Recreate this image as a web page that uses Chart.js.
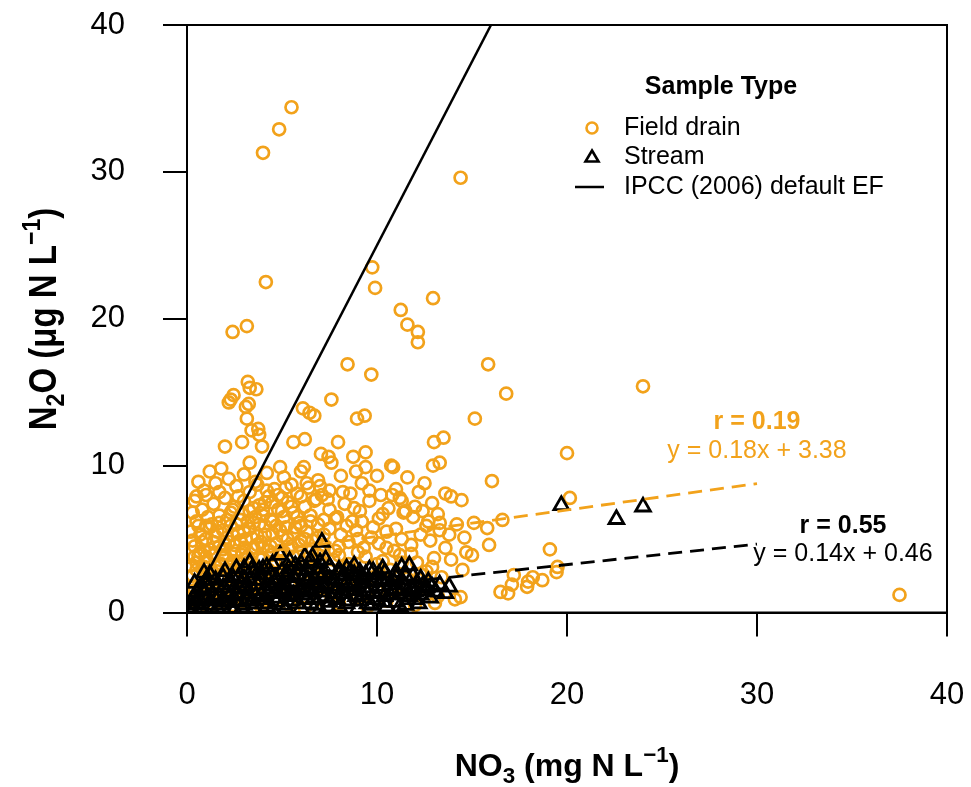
<!DOCTYPE html>
<html><head><meta charset="utf-8">
<script src="https://cdn.jsdelivr.net/npm/chart.js@4.4.1/dist/chart.umd.min.js"></script>
<style>html,body{margin:0;padding:0;background:#fff;}#wrap{width:971px;height:787px;}</style>
</head><body><div id="wrap"><canvas id="c" width="971" height="787"></canvas></div>
<script>
const xTicks=[0,10,20,30,40];
const yTicks=[0,10,20,30,40];
const seriesNames=['Field drain','Stream','IPCC (2006) default EF'];
const legendTitle='Sample Type';
// Field drain samples [NO3, N2O]
const fieldDrain=[
[5.5,34.4],[4.85,32.9],[4.0,31.3],[14.4,29.6],[4.15,22.5],[9.75,23.5],[9.9,22.1],[12.95,21.4],[11.25,20.6],[11.6,19.6],[12.15,19.1],[12.15,18.4],[15.85,16.9],[16.8,14.9],[15.15,13.2],[20.0,10.85],[24.0,15.4],[37.5,1.2],
[2.4,19.1],[3.15,19.5],[8.45,16.9],[9.7,16.2],[3.2,15.7],[3.3,15.3],[3.65,15.2],[2.45,14.8],[2.3,14.5],[2.2,14.3],[3.25,14.2],[3.1,14.0],[7.6,14.5],[6.1,13.9],[6.45,13.6],[6.7,13.4],[3.15,13.2],[8.95,13.2],[9.35,13.4],[3.4,12.4],[3.75,12.5],[3.8,12.1],[2.0,11.3],[2.9,11.6],[3.95,11.3],[5.6,11.6],[6.2,11.8],[7.95,11.6],[3.3,10.2],[7.05,10.8],[7.45,10.6],[7.6,10.2],[8.75,10.6],[9.4,10.9],[6.15,9.9],[9.4,9.9],[10.75,10.0],[10.85,9.9],[12.95,10.0],[13.3,10.2],[13.0,11.6],[13.5,11.9],
[16.05,8.95],[13.6,8.1],[13.9,7.9],[14.45,7.65],[12.9,7.45],[11.2,7.8],[11.3,7.6],[11.4,6.8],[15.1,6.1],[15.8,5.75],[16.6,6.3],[15.9,4.6],[19.1,4.3],[19.5,3.1],[19.45,2.75],[20.15,7.8],[17.2,2.55],[16.5,1.4],[16.9,1.3],[17.1,1.9],[17.95,2.1],[18.2,2.4],[18.7,2.2],[17.9,1.75],[13.05,0.65],[14.4,1.05],[14.7,4.1],[15.0,3.9],[13.9,3.6],[14.5,2.9],
[0.9,8.3],[1.5,8.8],[2.2,9.1],[2.6,8.6],[3.0,9.4],[3.6,8.9],[4.2,9.5],[4.6,8.4],[5.1,9.2],[5.5,8.7],[6.0,9.6],[6.4,8.5],[6.9,9.0],[7.5,8.3],[8.1,9.3],[8.6,8.1],[9.2,8.8],[10.2,8.0],[11.0,8.4],[12.2,8.2],[1.8,9.8],[4.9,9.9],[5.8,8.1],[7.1,8.0],
[0.5,6.2],[0.8,7.0],[1.1,6.5],[1.4,7.4],[1.7,6.1],[2.0,7.8],[2.3,6.8],[2.5,7.2],[2.8,6.3],[3.0,7.6],[3.3,6.9],[3.5,6.1],[3.8,7.3],[4.0,6.6],[4.3,7.9],[4.5,6.2],[4.8,7.0],[5.1,6.5],[5.3,7.5],[5.6,6.8],[5.9,6.1],[6.2,7.2],[6.5,6.6],[6.8,7.7],[7.2,6.3],[7.5,7.0],[7.9,6.5],[8.3,7.4],[8.7,6.2],[9.1,6.9],[9.6,7.6],[10.1,6.4],[10.6,7.1],[11.9,6.5],[12.4,6.9],[13.2,6.7],[12.7,6.2],[4.1,7.5],[2.7,7.9],[1.3,6.0],[3.6,6.5],[5.0,7.8],
[0.4,4.5],[0.7,5.3],[0.9,4.2],[1.2,5.8],[1.4,4.8],[1.6,5.5],[1.9,4.3],[2.1,5.1],[2.3,5.9],[2.5,4.6],[2.7,5.4],[2.9,4.1],[3.1,5.0],[3.3,5.7],[3.5,4.4],[3.7,5.2],[3.9,4.8],[4.1,5.9],[4.3,4.2],[4.5,5.4],[4.7,4.7],[4.9,5.6],[5.1,4.1],[5.3,5.0],[5.5,4.5],[5.7,5.8],[6.0,4.9],[6.3,5.5],[6.6,4.3],[6.9,5.1],[7.2,4.6],[7.5,5.7],[7.8,4.2],[8.1,5.3],[8.5,4.8],[8.9,5.6],[9.3,4.4],[9.7,5.1],[10.1,4.7],[10.5,5.5],[10.9,4.2],[11.3,5.0],[11.8,4.6],[12.3,5.3],[12.8,4.9],[13.3,5.6],[13.6,4.4],[1.0,5.0],[2.0,4.6],[3.0,5.5],[4.0,4.4],[5.0,5.2],[6.0,5.9],[7.0,4.2],[8.0,4.5],[9.0,5.0],
[0.3,2.5],[0.5,3.4],[0.8,2.1],[1.0,3.8],[1.2,2.8],[1.5,3.2],[1.7,2.3],[1.9,3.7],[2.2,2.9],[2.4,3.5],[2.6,2.2],[2.9,3.9],[3.1,2.6],[3.4,3.3],[3.6,2.1],[3.9,3.6],[4.2,2.7],[4.4,3.9],[4.7,2.4],[5.0,3.5],[5.3,2.9],[5.6,3.8],[5.9,2.3],[6.2,3.4],[6.6,2.8],[6.9,3.9],[7.3,2.5],[7.7,3.6],[8.1,2.2],[8.5,3.3],[8.9,2.7],[9.4,3.8],[9.8,2.4],[10.3,3.5],[10.7,2.9],[11.2,3.9],[11.6,2.3],[12.1,3.4],[12.6,2.8],[13.0,3.7],[13.4,2.4],
[0.2,0.8],[0.4,1.5],[0.6,0.4],[0.9,1.9],[1.1,1.1],[1.4,0.6],[1.6,1.6],[1.9,0.9],[2.1,1.8],[2.4,0.5],[2.7,1.3],[3.0,0.7],[3.3,1.7],[3.6,1.0],[3.9,0.4],[4.2,1.5],[4.6,0.8],[5.0,1.9],[5.4,0.5],[5.8,1.2],[6.2,0.3],[6.6,1.6],[7.0,0.9],[7.5,1.4],[8.0,0.6],[8.5,1.8],[9.0,1.0],[9.5,0.4],[10.0,1.5],[10.5,0.8],[11.0,1.9],[11.5,1.2],[12.0,0.5],[12.5,1.6],[13.2,1.1],[14.1,0.9],
[0.3,1.8],[0.5,2.9],[0.6,3.9],[0.7,1.2],[0.8,4.8],[0.9,2.6],[1.0,5.9],[1.1,3.4],[1.1,0.4],[1.2,4.3],[1.3,1.6],[1.3,2.2],[1.4,3.9],[1.5,5.2],[1.5,1.0],[1.6,2.8],[1.7,4.5],[1.7,6.6],[1.8,3.3],[1.8,1.3],[1.9,5.6],[2.0,2.4],[2.0,3.9],[2.1,0.7],[2.1,6.3],[2.2,4.8],[2.3,1.6],[2.3,3.1],[2.4,5.3],[2.4,7.0],[2.5,2.5],[2.5,4.0],[2.6,0.9],[2.6,6.0],[2.7,3.4],[2.8,4.9],[2.8,1.9],[2.9,6.7],[3.0,2.9],[3.0,4.4],
[3.1,1.2],[3.2,6.2],[3.2,3.8],[3.3,8.2],[3.4,2.3],[3.4,5.1],[3.5,7.1],[3.6,3.0],[3.7,4.6],[3.7,8.7],[3.8,1.6],[3.8,6.0],[3.9,2.6],[4.0,7.0],[4.0,3.7],[4.1,5.3],[4.2,0.8],[4.2,8.3],[4.3,2.9],[4.4,6.3],[4.4,4.5],[4.5,7.5],[4.6,1.9],[4.6,3.4],[4.7,5.9],[4.8,8.0],[4.8,2.7],[4.9,4.2],[5.0,6.9],[5.1,3.0],[5.2,5.8],[5.2,8.5],[5.3,1.4],[5.4,4.3],[5.5,7.2],[5.5,2.5],[5.6,5.4],[5.7,3.3],[5.8,6.5],[5.9,4.6],[6.0,7.9],[6.1,2.7],[6.2,5.0],[6.3,8.8],[6.4,3.7],[6.5,6.2],[6.6,4.9],[6.7,7.6],[6.8,2.4],[6.9,6.0],[7.0,3.6],[7.0,8.6],
[7.2,5.3],[7.4,7.7],[7.6,2.9],[7.8,6.4],[8.0,3.9],[8.2,8.2],[8.4,5.9],[8.6,3.0],[8.8,7.1],[9.0,4.1],[9.2,6.2],[9.4,2.1],[9.6,8.3],[9.8,5.8],[10.0,3.3],[10.3,6.7],[10.5,4.4],[10.8,8.0],[11.0,5.7],[11.3,3.4],[11.5,6.9],[11.8,4.0],[12.0,7.2],[12.3,2.6],[12.6,5.9],[12.9,3.1],[13.3,6.1],[13.8,5.3],[14.2,6.0],[14.6,5.1],[10.0,9.3],[11.6,9.2],[8.9,9.6],[12.5,8.8],
[0.6,8.9],[1.2,9.6],[0.4,7.6],[1.0,8.0],[1.7,8.2],
[0.2,3.2],[0.2,5.5],[0.3,6.8],[0.4,3.8],[0.6,5.9],[0.7,4.1],[0.9,3.1],[0.5,7.9],[0.3,4.9]
];
// Stream samples [NO3, N2O]
const stream=[
[19.7,7.3],[22.6,6.35],[24.0,7.2],[7.1,4.8],[4.9,3.9],[3.3,3.4],[5.35,3.0],[6.6,3.8],[13.8,1.75],[13.3,1.9],[12.9,1.75],[12.6,1.7],[11.7,3.2],[11.3,3.1],[11.0,2.75],[9.6,2.9],[9.1,2.75],[3.85,2.55],[2.3,1.9],[0.5,1.4],[0.3,0.9],
[0.2,0.3],[0.5,0.6],[0.8,0.2],[1.2,0.5],[1.6,0.3],[2.0,0.7],[2.5,0.2],[3.0,0.5],[3.5,0.3],[4.0,0.6],[4.5,0.2],[5.0,0.5],[5.5,0.8],[6.0,0.3],[6.5,0.6],[7.0,0.2],[7.5,0.7],[8.0,0.4],[8.5,0.8],[9.0,0.3],[9.5,0.6],[10.0,0.9],[10.5,0.4],[11.0,0.7],[11.5,0.5],[12.0,0.9],
[0.4,1.1],[0.9,1.5],[1.4,1.2],[1.9,1.7],[2.6,1.3],[3.1,1.8],[3.6,1.1],[4.1,1.6],[4.6,1.3],[5.1,1.9],[5.6,1.2],[6.1,1.7],[6.4,1.4],[6.9,1.9],[7.3,1.1],[7.8,1.6],[8.2,1.3],[8.7,1.8],[9.2,1.2],[9.7,1.7],[10.2,1.4],[10.7,1.9],[11.2,1.3],[11.8,1.6],[12.3,1.2],
[1.0,2.2],[2.7,2.4],[4.3,2.2],[5.8,2.6],[6.3,2.9],[6.7,2.3],[7.2,2.7],[7.7,2.2],[8.3,2.5],[9.3,2.2],[10.1,2.6],[10.6,2.3],[11.5,2.5],[6.0,3.3],[6.5,3.5],[7.5,3.1],[5.7,3.2],[8.0,2.9],
[1.5,0.9],[2.2,1.0],[3.4,0.8],[4.8,1.0],[5.3,1.6],[6.7,1.0],[7.6,1.0],[8.9,1.1],[10.4,1.1],[11.6,0.9],[12.6,1.5],[3.0,3.0],[3.5,2.7],[2.8,2.0],[4.6,2.0],[5.2,2.4],[6.9,2.6],[8.6,2.0],[9.8,2.1],[10.9,2.1],[12.1,2.0],[7.0,3.4],[8.4,3.0],[4.0,3.0],[6.3,2.1],
[0.3,0.5],[0.6,1.0],[0.7,0.3],[1.0,0.8],[1.1,1.7],[1.3,0.2],[1.7,1.1],[1.8,0.5],[2.1,1.4],[2.3,0.3],[2.4,2.4],[2.6,0.7],[2.8,1.6],[2.9,0.3],[3.2,1.3],[3.3,2.2],[3.6,0.6],[3.7,1.9],[3.9,1.2],[4.2,0.4],[4.3,1.4],[4.4,2.6],[4.7,0.7],[4.9,1.6],[5.0,2.8],[5.2,0.3],[5.4,1.1],[5.5,2.1],[5.8,0.6],[5.9,1.5],[6.2,2.5],[6.3,0.9],[6.6,2.0],[6.8,0.5],[7.0,1.4],[7.1,2.4],[7.4,0.4],[7.7,1.8],[7.9,0.9],[8.1,2.2],[8.4,0.6],[8.6,1.5],[8.8,2.6],[9.1,0.8],[9.3,1.7],[9.4,2.6],[9.7,0.5],[9.9,1.3],[10.2,2.2],[10.4,0.7],[10.8,1.5],[11.0,2.4],[11.2,0.4],[11.4,1.9],[11.7,1.1],[11.9,2.5],[12.2,0.6],[12.4,1.8],[12.8,1.0],[2.0,2.8],[3.8,2.9],[6.2,3.8],[7.3,3.6],[5.4,3.5],[8.8,3.2],[10.3,3.0],[4.5,3.3],[0.9,2.7],[1.5,2.2],
[0.4,2.0],[0.7,1.7],[1.2,2.6],[1.6,1.9],[1.9,2.4],[2.2,2.1],[2.5,1.7],[3.0,2.3],[3.2,0.9],[3.5,1.5],[3.9,2.2],[4.1,0.9],[4.4,1.8],[4.7,2.3],[5.1,1.3],[5.3,2.6],[5.6,1.8],[5.9,2.9],[6.1,1.2],[6.4,2.2],[6.6,1.4],[6.9,3.0],[7.2,1.7],[7.5,2.3],[7.8,1.3],[8.0,2.6],[8.3,1.8],[8.6,2.8],[8.9,1.5],[9.2,2.4],[9.5,1.4],[9.8,2.8],[10.1,1.8],[10.4,2.7],[10.7,1.2],[11.0,1.6],[11.3,2.2],[11.6,1.5],[12.0,1.4],[12.3,2.3],[12.7,2.1],[13.1,1.4],[13.6,1.3],[5.6,2.4],[4.2,3.1],[3.4,2.9],[2.6,3.0]
];
const ipccLine=[[0,0],[16,40]];
const fieldFit=[[0,3.38],[30,8.78]];
const streamFit=[[0,0.46],[30,4.66]];
const fieldLabel=['r = 0.19','y = 0.18x + 3.38'];
const streamLabel=['r = 0.55','y = 0.14x + 0.46'];

const ORANGE='#F2A21B';
const FONT='"Liberation Sans", Arial, sans-serif';
const toXY=a=>a.map(p=>({x:p[0],y:p[1]}));

function measureRich(ctx,parts,size,bold){
  const w=bold?'bold ':'';
  let total=0;
  parts.forEach(p=>{const s=p.s?size*0.7:size;ctx.font=w+s+'px '+FONT;p.w=ctx.measureText(p.t).width;total+=p.w;});
  return total;
}
function drawRich(ctx,parts,size,bold,cx,cy){
  const w=bold?'bold ':'';
  const total=measureRich(ctx,parts,size,bold);
  let x=cx-total/2;
  ctx.textAlign='left';ctx.textBaseline='alphabetic';
  const base=cy+size*0.36;
  parts.forEach(p=>{
    const s=p.s?size*0.7:size;ctx.font=w+s+'px '+FONT;
    let dy=0; if(p.s==='sub')dy=size*0.22; if(p.s==='sup')dy=-size*0.42;
    ctx.fillText(p.t,x,base+dy); x+=p.w;
  });
}

const deco={
  id:'deco',
  afterDraw(chart){
    const ctx=chart.ctx, a=chart.chartArea;
    ctx.save();
    ctx.strokeStyle='#000';ctx.lineWidth=2;
    ctx.strokeRect(a.left,a.top,a.right-a.left,a.bottom-a.top);
    ctx.fillStyle='#000';
    drawRich(ctx,[{t:'NO'},{t:'3',s:'sub'},{t:' (mg N L'},{t:'\u22121',s:'sup'},{t:')'}],32,true,567,764);
    ctx.save();ctx.translate(42,319);ctx.rotate(-Math.PI/2);ctx.scale(1,1.15);
    drawRich(ctx,[{t:'N'},{t:'2',s:'sub'},{t:'O (\u03BCg N L'},{t:'\u22121',s:'sup'},{t:')'}],33,true,0,0);
    ctx.restore();
    ctx.textBaseline='middle';
    ctx.font='bold 25px '+FONT;ctx.textAlign='center';ctx.fillText(legendTitle,721,87);
    ctx.font='25px '+FONT;ctx.textAlign='left';
    const ly=[128,157,187], sx=592, tx=624;
    seriesNames.forEach((n,i)=>ctx.fillText(n,tx,ly[i]));
    ctx.lineWidth=2.6;ctx.strokeStyle=ORANGE;
    ctx.beginPath();ctx.arc(sx,ly[0],5.5,0,Math.PI*2);ctx.stroke();
    ctx.strokeStyle='#000';
    ctx.beginPath();ctx.moveTo(sx,ly[1]-6.5);ctx.lineTo(sx+6.5,ly[1]+4.5);ctx.lineTo(sx-6.5,ly[1]+4.5);ctx.closePath();ctx.stroke();
    ctx.lineWidth=2.5;
    ctx.beginPath();ctx.moveTo(sx-17,ly[2]);ctx.lineTo(sx+12,ly[2]);ctx.stroke();
    ctx.textAlign='center';
    ctx.fillStyle=ORANGE;
    ctx.font='bold 25px '+FONT;ctx.fillText(fieldLabel[0],757,422);
    ctx.font='25px '+FONT;ctx.fillText(fieldLabel[1],757,451);
    ctx.fillStyle='#000';
    ctx.font='bold 25px '+FONT;ctx.fillText(streamLabel[0],843,526);
    ctx.font='25px '+FONT;ctx.fillText(streamLabel[1],843,554);
    ctx.restore();
  }
};

const axisCommon=(ticks,pad)=>({
  type:'linear',min:0,max:40,
  afterBuildTicks:s=>{s.ticks=ticks.map(v=>({value:v}));},
  ticks:{color:'#000',font:{family:FONT,size:31},padding:pad},
  grid:{drawOnChartArea:false,drawTicks:true,tickLength:24,color:'#000',lineWidth:2},
  border:{display:true,color:'#000',width:2}
});
const xs=axisCommon(xTicks,40); xs.afterFit=s=>{s.height=174.5;s.paddingLeft=0;s.paddingRight=0;};
const ys=axisCommon(yTicks,38); ys.afterFit=s=>{s.width=187;s.paddingTop=0;s.paddingBottom=0;};

new Chart(document.getElementById('c'),{
  type:'scatter',
  data:{datasets:[
    {label:seriesNames[2],type:'line',data:toXY(ipccLine),borderColor:'#000',borderWidth:2.5,pointRadius:0,fill:false,order:1},
    {label:'fit field',type:'line',data:toXY(fieldFit),borderColor:ORANGE,borderWidth:2.8,borderDash:[14,8],pointRadius:0,fill:false,order:1},
    {label:'fit stream',type:'line',data:toXY(streamFit),borderColor:'#000',borderWidth:2.8,borderDash:[14,8],pointRadius:0,fill:false,order:1},
    {label:seriesNames[1],data:toXY(stream),pointStyle:'triangle',pointRadius:8.5,borderColor:'#000',backgroundColor:'rgba(0,0,0,0)',pointBorderWidth:2.8,order:2},
    {label:seriesNames[0],data:toXY(fieldDrain),pointStyle:'circle',pointRadius:6,borderColor:ORANGE,backgroundColor:'rgba(0,0,0,0)',pointBorderWidth:2.7,order:3}
  ]},
  options:{
    responsive:false,animation:false,devicePixelRatio:1,events:[],
    layout:{padding:{top:25,right:24,left:0,bottom:0}},
    plugins:{legend:{display:false},tooltip:{enabled:false}},
    scales:{x:xs,y:ys}
  },
  plugins:[deco]
});
</script></body></html>
